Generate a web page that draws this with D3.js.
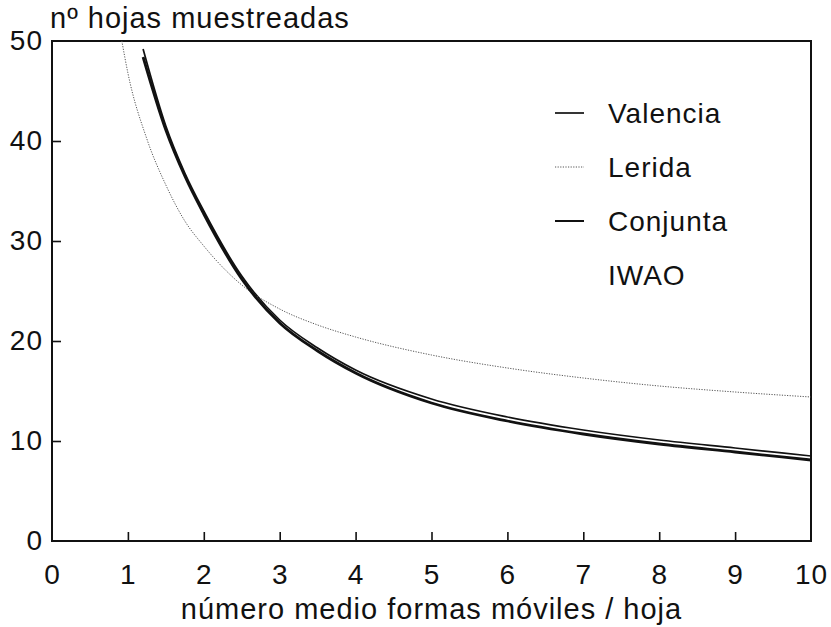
<!DOCTYPE html>
<html>
<head>
<meta charset="utf-8">
<script src="https://cdn.jsdelivr.net/npm/d3@7"></script>
<style>
  body { margin: 0; background: #fff; }
  text { font-family: "Liberation Sans", Arial, sans-serif; fill: #111; }
</style>
</head>
<body>
<svg id="chart" width="831" height="627"></svg>
<script>
// data
var xTicks = [0, 1, 2, 3, 4, 5, 6, 7, 8, 9, 10];
var yTicks = [0, 10, 20, 30, 40, 50];

var valenciaM = [1.2, 1.5, 1.75, 2, 2.5, 3, 3.5, 4, 5, 6, 7, 8, 9, 10];
var valenciaN = [49.2, 41.5, 36.8, 33.0, 26.5, 22.1, 19.3, 17.1, 14.2, 12.4, 11.1, 10.1, 9.3, 8.5];

var conjuntaM = [1.2, 1.5, 1.75, 2, 2.5, 3, 3.5, 4, 5, 6, 7, 8, 9, 10];
var conjuntaN = [48.4, 41.1, 36.5, 32.7, 26.2, 21.8, 19.0, 16.8, 13.8, 12.0, 10.7, 9.7, 8.9, 8.1];

var leridaM = [0.92, 1, 1.25, 1.5, 1.75, 2, 2.5, 3, 3.5, 4, 5, 6, 7, 8, 9, 10];
var leridaN = [50.0, 46.8, 40.2, 35.6, 32.0, 29.5, 25.6, 23.2, 21.6, 20.4, 18.6, 17.3, 16.3, 15.5, 14.9, 14.4];

var legendNames = ['Valencia', 'Lerida', 'Conjunta', 'IWAO'];

// plot box in pixels
var plotLeft = 52, plotRight = 811, plotTop = 41, plotBottom = 541;

function drawChart() {
  var svg = d3.select('#chart');

  var x = d3.scaleLinear().domain([0, 10]).range([plotLeft, plotRight]);
  var y = d3.scaleLinear().domain([0, 50]).range([plotBottom, plotTop]);

  // pair up the arrays for d3.line
  function pairs(ms, ns) {
    return ms.map(function (m, i) { return [m, ns[i]]; });
  }

  var line = d3.line()
    .x(function (d) { return x(d[0]); })
    .y(function (d) { return y(d[1]); })
    .curve(d3.curveMonotoneX);

  // series styles
  var series = [
    {name: 'Valencia', data: pairs(valenciaM, valenciaN), width: 1.7, dash: null, color: '#111'},
    {name: 'Lerida', data: pairs(leridaM, leridaN), width: 1, dash: '1.2,1.4', color: '#555'},
    {name: 'Conjunta', data: pairs(conjuntaM, conjuntaN), width: 2.8, dash: null, color: '#111'}
  ];

  // axes with inward ticks
  var xAxis = d3.axisBottom(x).tickValues(xTicks).tickSize(-9).tickPadding(23);
  var yAxis = d3.axisLeft(y).tickValues(yTicks).tickSize(-9).tickPadding(9);

  var gx = svg.append('g').attr('transform', 'translate(0,' + plotBottom + ')').call(xAxis);
  var gy = svg.append('g').attr('transform', 'translate(' + plotLeft + ',0)').call(yAxis);

  [gx, gy].forEach(function (g) {
    g.select('.domain').remove();
    g.selectAll('line').attr('stroke', '#111').attr('stroke-width', 1.6);
    g.selectAll('text')
      .style('font-family', '"Liberation Sans", Arial, sans-serif')
      .style('font-size', '28px')
      .style('letter-spacing', '1px')
      .attr('fill', '#111');
  });
  gx.selectAll('text').attr('dy', '0.71em');
  gx.selectAll('.tick').filter(function (d) { return d === 0 || d === 10; }).select('line').remove();
  gy.selectAll('.tick').filter(function (d) { return d === 0 || d === 50; }).select('line').remove();

  // frame
  svg.append('rect')
    .attr('x', plotLeft).attr('y', plotTop)
    .attr('width', plotRight - plotLeft).attr('height', plotBottom - plotTop)
    .attr('fill', 'none').attr('stroke', '#111').attr('stroke-width', 2);

  // curves
  svg.append('g').selectAll('path')
    .data(series)
    .enter().append('path')
    .attr('d', function (s) { return line(s.data); })
    .attr('fill', 'none')
    .attr('stroke', function (s) { return s.color; })
    .attr('stroke-width', function (s) { return s.width; })
    .attr('stroke-dasharray', function (s) { return s.dash; });

  // legend, IWAO has no line
  var legend = svg.append('g');
  legendNames.forEach(function (name, i) {
    var ly = 113 + i * 54;
    var s = series.filter(function (d) { return d.name === name; })[0];
    if (s) {
      legend.append('line')
        .attr('x1', 555).attr('x2', 584).attr('y1', ly).attr('y2', ly)
        .attr('stroke', s.color)
        .attr('stroke-width', s.name === 'Conjunta' ? 2 : s.width)
        .attr('stroke-dasharray', s.dash);
    }
    legend.append('text')
      .attr('x', 608).attr('y', ly).attr('dy', '0.35em')
      .style('font-size', '28px').style('letter-spacing', '1px')
      .text(name);
  });

  // axis titles
  svg.append('text')
    .attr('x', 50).attr('y', 28)
    .style('font-size', '29px').style('letter-spacing', '1px')
    .text('nº hojas muestreadas');

  svg.append('text')
    .attr('x', (plotLeft + plotRight) / 2).attr('y', 619)
    .attr('text-anchor', 'middle')
    .style('font-size', '29px').style('letter-spacing', '1px')
    .text('número medio formas móviles / hoja');
}

drawChart();
</script>
</body>
</html>
